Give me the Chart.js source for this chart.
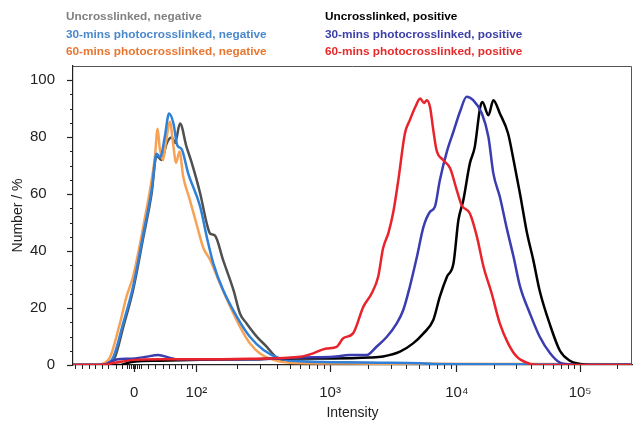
<!DOCTYPE html>
<html>
<head>
<meta charset="utf-8">
<script src="https://cdn.jsdelivr.net/npm/chart.js@4.4.0/dist/chart.umd.min.js"></script>
<style>
  html, body { margin: 0; padding: 0; background: #fff; }
  #wrap { width: 641px; height: 422px; }
</style>
</head>
<body>
<div id="wrap"><canvas id="fluoChart"></canvas></div>
<script>
// x values are channel numbers (0-1024) of the biexponential intensity axis
const xTickValues = [112, 226, 471, 703, 929];
const xTickLabels = ['0', '10²', '10³', '10⁴', '10⁵'];
const xLowMinor = [4, 17, 29, 41, 53, 65, 78, 90, 99, 103, 106, 110, 114, 117, 121, 125,
                   137, 151, 164, 176, 187, 198, 209, 218];
const yTickValues = [0, 20, 40, 60, 80, 100];
const yTickLabels = ['0', '20\u2007', '40\u2007', '60\u2007', '80\u2007', '100'];

const seriesLabels = [
    'Uncrosslinked, negative',
    '30-mins photocrosslinked, negative',
    '60-mins photocrosslinked, negative',
    'Uncrosslinked, positive',
    '30-mins photocrosslinked, positive',
    '60-mins photocrosslinked, positive'
];
const lineColors = ['#505050', '#2f80d8', '#f7a255', '#000000', '#3a3cb0', '#e8232b'];
const legendColors = ['#808080', '#4a88cc', '#e8762f', '#000000', '#3b3ea8', '#e62a2a'];

const uncNegX = [0, 49, 64, 77, 92, 110, 129, 144, 153, 162, 172, 181, 187, 196, 208, 217, 233, 245, 251, 260,
                 275, 294, 306, 318, 337, 355, 373, 397, 452, 526, 636, 746, 1024];
const uncNegY = [0, 0, 0.3, 2.8, 13.3, 26.3, 45, 60.2, 73.5, 72, 78, 80, 78, 84.8, 76.6, 71.3, 60.2, 49.7, 46.2, 45.5,
                 36.8, 26.3, 18, 14.6, 9.9, 6.4, 2.6, 1.5, 1.0, 0.7, 0.4, 0.2, 0.2];

const thirtyNegX = [0, 49, 60, 74, 92, 110, 129, 144, 153, 160, 168, 176, 184, 191, 199, 211, 233, 245, 257, 275,
                    300, 324, 349, 379, 416, 471, 562, 636, 672, 1024];
const thirtyNegY = [0, 0, 0.3, 2.8, 14.7, 27.5, 46.2, 61.4, 74.2, 73, 80, 88.3, 84.8, 77.2, 75.8, 67.3, 55.6, 45, 35.7, 26.3,
                    17, 9.9, 5.3, 2.3, 1.3, 1.0, 0.8, 0.6, 0.3, 0.2];

const sixtyNegX = [0, 42, 55, 68, 86, 98, 110, 123, 132, 141, 150, 155, 159, 165, 170, 178, 182, 189, 195, 202,
                   214, 227, 239, 251, 269, 288, 306, 324, 342, 367, 397, 507, 599, 1024];
const sixtyNegY = [0, 0, 0.5, 2.8, 14.7, 24, 31, 42.8, 52, 61.4, 73, 83, 76, 72, 78, 85.4, 80, 71, 75, 66,
                   58, 49, 41, 37, 28.7, 20.5, 13.4, 7.6, 4.1, 1.8, 0.8, 0.5, 0.4, 0.3];

const uncPosX = [0, 88, 101, 114, 159, 233, 324, 385, 471, 544, 568, 599, 623, 642, 660, 672, 685, 697, 706, 715,
                 727, 736, 746, 750, 761, 770, 782, 797, 807, 819, 831, 843, 855, 874, 892, 910, 929, 947, 1024];
const uncPosY = [0, 0, 0.8, 1.2, 1.5, 1.8, 2.0, 2.3, 2.3, 2.6, 3.0, 4.7, 7.6, 11.1, 15.8, 24, 31, 35.7, 50.9, 57.9,
                 70.8, 76.6, 90.6, 92.4, 87.7, 93, 88.3, 81.3, 72, 60, 47, 37, 26, 14, 5, 1.5, 0.4, 0, 0];

const thirtyPosX = [0, 55, 68, 82, 104, 132, 156, 178, 192, 233, 324, 385, 416, 477, 507, 538, 556, 575, 593, 605,
                    617, 630, 642, 654, 663, 672, 685, 697, 709, 721, 733, 749, 761, 770, 782, 794, 807, 819, 837, 855,
                    874, 892, 910, 929, 1024];
const thirtyPosY = [0, 0, 1, 2, 2.2, 2.8, 3.5, 2.5, 2, 2, 2, 2.3, 2.6, 2.9, 3.5, 3.5, 6.4, 9.9, 14.6, 19.3,
                    27.5, 38, 48.5, 53.8, 55.6, 64.9, 75, 82, 89, 94.2, 93, 88.3, 80.1, 67.3, 59, 48.5, 38, 27.5, 18.1, 9.9,
                    4.1, 0.8, 0.2, 0, 0];

const sixtyPosX = [0, 51, 77, 113, 159, 233, 324, 385, 416, 440, 464, 483, 495, 513, 532, 547, 559, 568, 578, 587,
                   596, 608, 617, 627, 636, 643, 648, 654, 660, 666, 678, 691, 703, 712, 727, 740, 752, 767, 782, 797,
                   813, 837, 855, 1024];
const sixtyPosY = [0, 0, 0.8, 1.8, 2.0, 2.0, 2.2, 2.5, 2.9, 4.1, 5.8, 6.4, 9.4, 11.1, 20.5, 25.1, 31, 41, 46.5, 54,
                   65, 81.3, 86, 90.6, 93.6, 92, 93, 90.6, 82.5, 75.4, 72, 69, 61.4, 56.1, 53.2, 45, 34.5, 25.1, 14.5, 7.6,
                   2.9, 0.4, 0, 0];

const seriesX = [uncNegX, thirtyNegX, sixtyNegX, uncPosX, thirtyPosX, sixtyPosX];
const seriesY = [uncNegY, thirtyNegY, sixtyNegY, uncPosY, thirtyPosY, sixtyPosY];
// lower order is drawn on top
const drawOrder = [6, 4, 5, 3, 2, 1];

// log minor ticks between the decade ticks (10^2 .. 10^5 and beyond)
function logMinorTicks() {
    const decades = xTickValues.slice(1);
    decades.push(decades[3] + (decades[3] - decades[2]));
    const out = [];
    for (let d = 0; d < decades.length - 1; d++) {
        for (let k = 2; k <= 9; k++) {
            const v = decades[d] + (decades[d + 1] - decades[d]) * Math.log10(k);
            if (v < 1024) out.push(v);
        }
    }
    return out;
}
const xMinor = xLowMinor.concat(logMinorTicks());
const yMinor = [];
for (let v = 5; v < 100; v += 5) if (v % 20) yMinor.push(v);

const minorTicks = {
    id: 'minorTicks',
    afterDraw(chart) {
        const {ctx, scales: {x, y}} = chart;
        ctx.save();
        ctx.strokeStyle = '#222';
        ctx.lineWidth = 1;
        ctx.beginPath();
        xMinor.forEach(v => {
            const p = Math.round(x.getPixelForValue(v)) + 0.5;
            ctx.moveTo(p, x.top);
            ctx.lineTo(p, x.top + 4);
        });
        yMinor.forEach(v => {
            const p = Math.round(y.getPixelForValue(v)) + 0.5;
            ctx.moveTo(y.right, p);
            ctx.lineTo(y.right - 3, p);
        });
        ctx.stroke();
        // top and right frame
        const a = chart.chartArea;
        ctx.strokeStyle = '#555';
        ctx.beginPath();
        ctx.moveTo(a.left, a.top + 0.5);
        ctx.lineTo(a.right - 0.5, a.top + 0.5);
        ctx.lineTo(a.right - 0.5, a.bottom);
        ctx.stroke();
        ctx.restore();
    }
};

const textLegend = {
    id: 'textLegend',
    afterDraw(chart) {
        const {ctx} = chart;
        const colX = [66, 325];
        const rowY = [17, 34.5, 52];
        ctx.save();
        ctx.font = 'bold 11.8px "Liberation Sans", Arial, sans-serif';
        ctx.textBaseline = 'middle';
        ctx.textAlign = 'left';
        chart.data.datasets.forEach((ds, i) => {
            ctx.fillStyle = legendColors[i];
            ctx.fillText(ds.label, colX[Math.floor(i / 3)], rowY[i % 3]);
        });
        ctx.restore();
    }
};

function initializeChart() {
    const ctx = document.getElementById('fluoChart').getContext('2d');
    const datasets = seriesLabels.map((label, i) => ({
        label: label,
        data: seriesX[i].map((x, j) => ({x: x, y: seriesY[i][j]})),
        borderColor: lineColors[i],
        backgroundColor: lineColors[i],
        borderWidth: 2.5,
        pointRadius: 0,
        fill: false,
        cubicInterpolationMode: 'monotone',
        order: drawOrder[i]
    }));

    new Chart(ctx, {
        type: 'line',
        data: { datasets: datasets },
        plugins: [minorTicks, textLegend],
        options: {
            responsive: true,
            maintainAspectRatio: false,
            animation: false,
            layout: { padding: { top: 66, right: 9, left: 0, bottom: 0 } },
            scales: {
                x: {
                    type: 'linear',
                    min: 0,
                    max: 1024,
                    afterFit: s => { s.height = 57; },
                    afterBuildTicks: s => { s.ticks = xTickValues.map(v => ({value: v})); },
                    grid: { drawOnChartArea: false, tickLength: 7, tickColor: '#222', tickWidth: 1.2 },
                    border: { color: '#222', width: 1.2 },
                    ticks: {
                        color: '#222',
                        padding: 12,
                        maxRotation: 0,
                        autoSkip: false,
                        font: { family: '"Liberation Sans", Arial, sans-serif', size: 15 },
                        callback: v => xTickLabels[xTickValues.indexOf(v)]
                    },
                    title: {
                        display: true,
                        text: 'Intensity',
                        color: '#222',
                        padding: { top: 0, bottom: 0 },
                        font: { family: '"Liberation Sans", Arial, sans-serif', size: 14 }
                    }
                },
                y: {
                    min: 0,
                    max: 105,
                    afterFit: s => { s.width = 73; },
                    afterBuildTicks: s => { s.ticks = yTickValues.map(v => ({value: v})); },
                    grid: { drawOnChartArea: false, tickLength: 6, tickColor: '#222', tickWidth: 1.2 },
                    border: { color: '#222', width: 1.2 },
                    ticks: {
                        color: '#222',
                        padding: 12,
                        font: { family: '"Liberation Sans", Arial, sans-serif', size: 15 },
                        callback: v => yTickLabels[yTickValues.indexOf(v)]
                    },
                    title: {
                        display: true,
                        text: 'Number / %',
                        color: '#222',
                        padding: { top: 10, bottom: 0 },
                        font: { family: '"Liberation Sans", Arial, sans-serif', size: 14 }
                    }
                }
            },
            plugins: {
                legend: { display: false },
                tooltip: { enabled: false }
            }
        }
    });
}
document.addEventListener('DOMContentLoaded', initializeChart);
</script>
</body>
</html>
